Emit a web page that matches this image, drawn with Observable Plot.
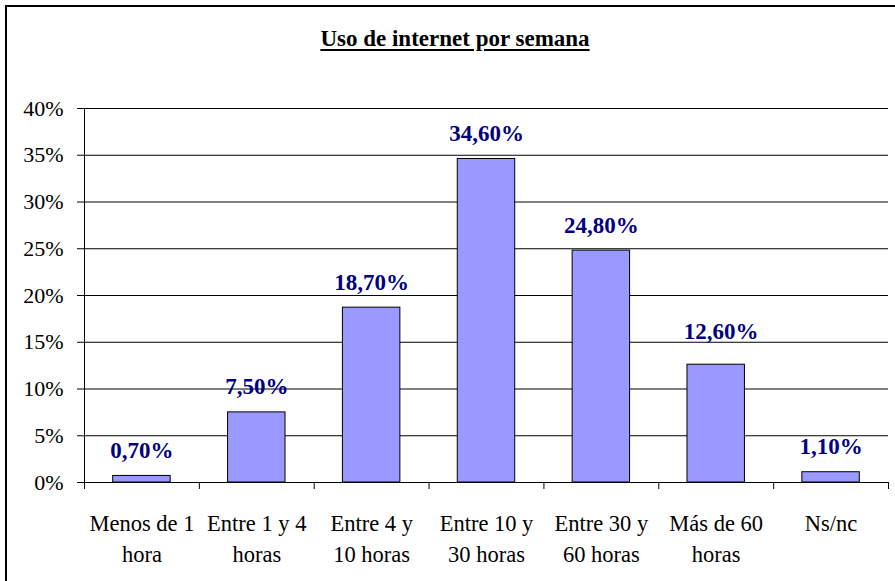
<!DOCTYPE html>
<html>
<head>
<meta charset="utf-8">
<script src="https://cdn.jsdelivr.net/npm/d3@7"></script>
<script src="https://cdn.jsdelivr.net/npm/@observablehq/plot@0.6"></script>
<style>
  html, body { margin: 0; padding: 0; background: #fff; overflow: hidden; }
  #wrap { position: relative; width: 895px; height: 581px; font-family: 'Liberation Serif'; }
  #frame { position: absolute; left: 5px; top: 5px; width: 1000px; height: 1000px; border-left: 2px solid #000; border-top: 2px solid #000; box-sizing: border-box; pointer-events: none; }
  #title { position: absolute; left: 255px; width: 400px; top: 27px; text-align: center; font-family: 'Liberation Serif'; font-size: 23px; line-height: 23px; font-weight: bold; text-decoration: underline; text-decoration-thickness: 2px; text-underline-offset: 3px; }
  #chart svg { display: block; }
  #chart svg text { font-family: 'Liberation Serif' !important; }
</style>
</head>
<body>
<div id="wrap">
  <div id="chart"></div>
  <div id="frame"></div>
  <div id="title">Uso de internet por semana</div>
</div>
<script>
const categories = ["Menos de 1\nhora", "Entre 1 y 4\nhoras", "Entre 4 y\n10 horas", "Entre 10 y\n30 horas", "Entre 30 y\n60 horas", "Más de 60\nhoras", "Ns/nc"];
const values = [0.70, 7.50, 18.70, 34.60, 24.80, 12.60, 1.10];
const yTicks = [0, 5, 10, 15, 20, 25, 30, 35, 40];

const data = categories.map((c, i) => ({i, category: c, value: values[i]}));
const fmt = v => v.toFixed(2).replace(".", ",") + "%";
const FONT = "Liberation Serif";
// the "Más de 60 horas" label sits a little higher/right in the original
const movedLabel = 5;

const labelOpts = {x: d => d.i + 0.5, y: "value", text: d => fmt(d.value), lineAnchor: "bottom", fontSize: 23, fontFamily: FONT, fontWeight: "bold", fill: "#000080"};

const chart = Plot.plot({
  width: 895,
  height: 581,
  marginLeft: 84,
  marginRight: 7,
  marginTop: 108,
  marginBottom: 99,
  style: {fontFamily: FONT, background: "transparent", color: "#000"},
  x: {type: "linear", domain: [0, categories.length], axis: null},
  y: {domain: [0, 40], axis: null},
  marks: [
    Plot.gridY(yTicks, {stroke: "#000", strokeOpacity: 1, strokeWidth: 1}),
    Plot.rectY(data, {x1: d => d.i, x2: d => d.i + 1, y: "value", insetLeft: 28.7, insetRight: 28.7, fill: "#9999FF", stroke: "#000", strokeWidth: 1}),
    Plot.ruleX([0], {y1: 0, y2: 40, stroke: "#000"}),
    Plot.axisY(yTicks, {label: null, tickSize: 7, tickPadding: 14, tickFormat: d => d + "%", fontSize: 22, fontFamily: FONT, stroke: "#000"}),
    Plot.axisX(d3.range(categories.length + 1), {label: null, tickSize: 7, tickFormat: () => "", stroke: "#000"}),
    Plot.text(data, {x: d => d.i + 0.5, y: 0, text: "category", lineAnchor: "top", dy: 27, lineHeight: 1.36, fontSize: 22.5, fontFamily: FONT, fill: "#000"}),
    Plot.text(data.filter(d => d.i !== movedLabel), {...labelOpts, dy: -18}),
    Plot.text(data.filter(d => d.i === movedLabel), {...labelOpts, dy: -26, dx: 5})
  ]
});
document.getElementById("chart").appendChild(chart);
</script>
</body>
</html>
